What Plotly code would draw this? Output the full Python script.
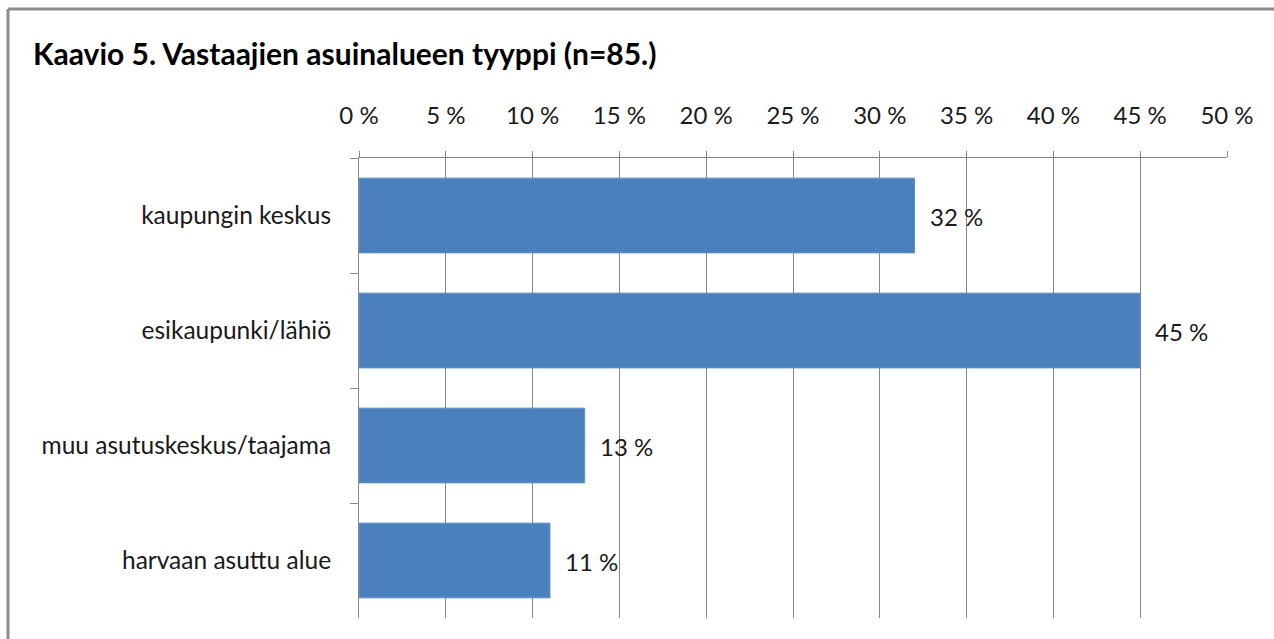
import plotly.graph_objects as go

categories = ["kaupungin keskus", "esikaupunki/lähiö", "muu asutuskeskus/taajama", "harvaan asuttu alue"]
values = [32, 45, 13, 11]
tick_vals = [0, 5, 10, 15, 20, 25, 30, 35, 40, 45, 50]
tick_text = [f"{v} %" for v in tick_vals]
title_text = "Kaavio 5. Vastaajien asuinalueen tyyppi (n=85.)"

FONT = "Lato"
GRID = "#888888"
BAR = "#4a81bd"
TXT = "#1a1a1a"

fig = go.Figure()
fig.add_trace(go.Bar(
    x=values, y=categories, orientation="h",
    marker=dict(color=BAR, line=dict(color="#5b8fc9", width=1)),
    width=0.65, hoverinfo="skip",
))

annotations = [
    dict(x=v, y=c, xref="x", yref="y", text=f"{v} %", showarrow=False,
         xanchor="left", xshift=13, yshift=-1, font=dict(family=FONT, size=24, color=TXT))
    for c, v in zip(categories, values)
]
annotations.append(dict(
    text=title_text, xref="paper", yref="paper",
    x=(31 - 359) / 868, y=1 + (158 - 53) / 460, showarrow=False,
    xanchor="left", yanchor="middle",
    font=dict(family=FONT, size=30, color="#000000", weight="bold"),
))

fig.update_layout(
    width=1274, height=639,
    margin=dict(l=359, r=47, t=158, b=21),
    paper_bgcolor="white", plot_bgcolor="white",
    showlegend=False,
    font=dict(family=FONT, size=24, color=TXT),
    annotations=annotations,
    shapes=[
        dict(type="line", xref="paper", yref="paper", x0=-351/868, x1=915/868,
             y0=1 + 149/460, y1=1 + 149/460, line=dict(color="#8c8c8c", width=3)),
        dict(type="line", xref="paper", yref="paper", x0=-351/868, x1=-351/868,
             y0=1 + 149/460, y1=-30/460, line=dict(color="#8c8c8c", width=3)),
    ],
    xaxis=dict(
        side="top", range=[0, 50], tickvals=tick_vals, ticktext=tick_text,
        showgrid=True, gridcolor=GRID, gridwidth=1,
        showline=True, linecolor=GRID, linewidth=1,
        ticks="outside", ticklen=6, tickcolor=GRID,
        zeroline=False, fixedrange=True,
        tickfont=dict(family=FONT, size=24, color=TXT),
        ticklabelstandoff=17,
    ),
    yaxis=dict(
        categoryorder="array", categoryarray=categories, autorange="reversed",
        showline=True, linecolor=GRID, linewidth=1,
        ticks="outside", ticklen=8, tickcolor=GRID, tickson="boundaries",
        showgrid=False, fixedrange=True,
        tickfont=dict(family=FONT, size=24.5, color=TXT),
        ticklabelstandoff=22,
    ),
)

fig.write_html("out.html", config={"displayModeBar": False},
               post_script="document.body.style.margin='0px';document.body.style.overflow='hidden';")
